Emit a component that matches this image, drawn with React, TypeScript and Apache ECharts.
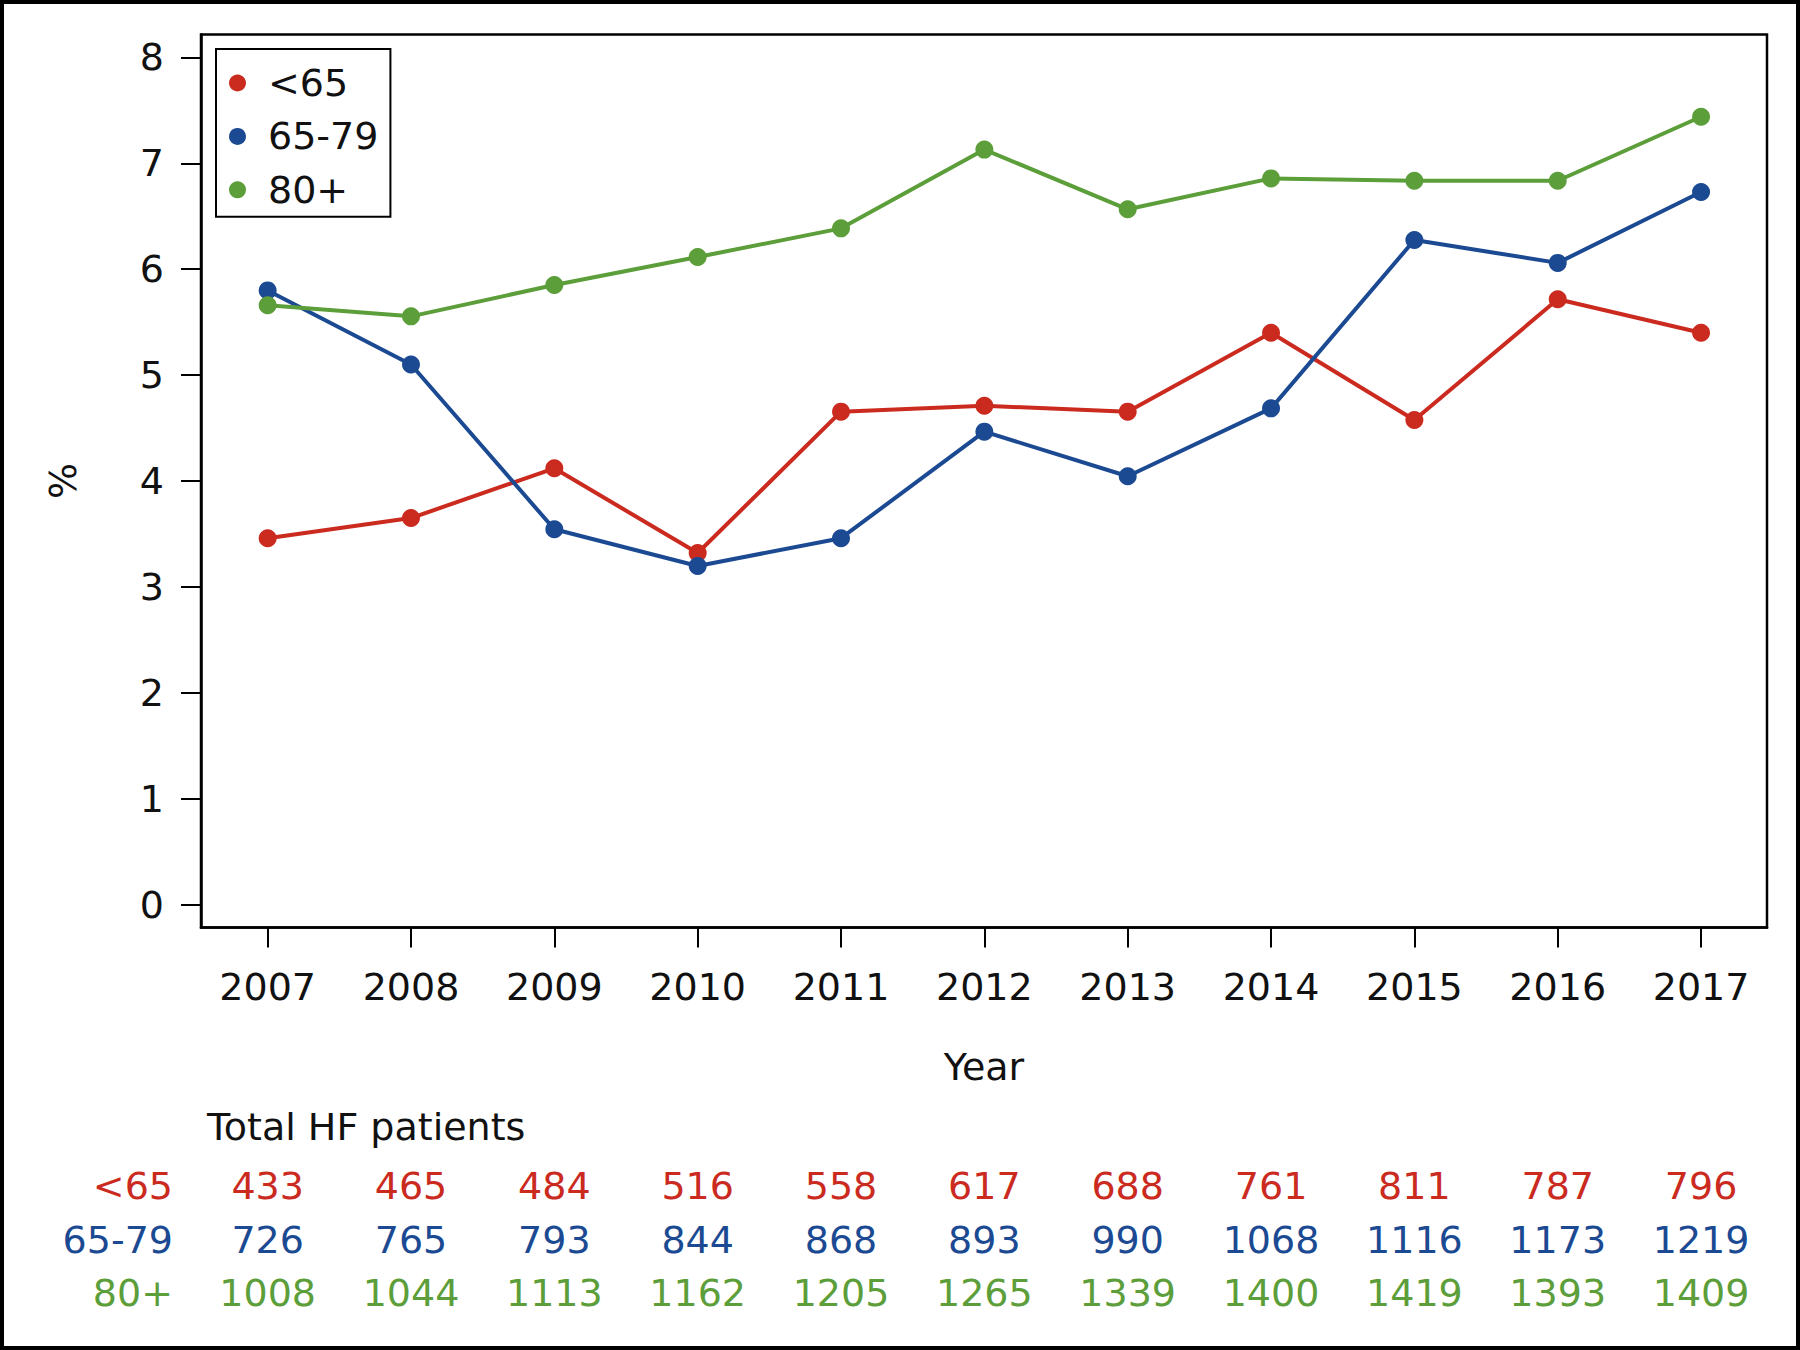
import React, { useEffect, useRef } from "react";
import * as echarts from "echarts";

// ---- data ----
const years = [2007, 2008, 2009, 2010, 2011, 2012, 2013, 2014, 2015, 2016, 2017];
const seriesNames = ["<65", "65-79", "80+"];
const pctUnder65 = [3.46, 3.65, 4.12, 3.32, 4.655, 4.71, 4.655, 5.40, 4.576, 5.716, 5.40];
const pct65to79 = [5.80, 5.10, 3.544, 3.197, 3.46, 4.466, 4.045, 4.686, 6.276, 6.06, 6.73];
const pct80plus = [5.66, 5.555, 5.851, 6.115, 6.386, 7.13, 6.566, 6.858, 6.836, 6.836, 7.44];
const countsUnder65 = [433, 465, 484, 516, 558, 617, 688, 761, 811, 787, 796];
const counts65to79 = [726, 765, 793, 844, 868, 893, 990, 1068, 1116, 1173, 1219];
const counts80plus = [1008, 1044, 1113, 1162, 1205, 1265, 1339, 1400, 1419, 1393, 1409];
const yTicks = [0, 1, 2, 3, 4, 5, 6, 7, 8];
const tableTitle = "Total HF patients";
const xTitle = "Year";
const yTitle = "%";

const colors = ["#CB2A1F", "#1B4A93", "#5C9E3A"];
const FONT = "DejaVu Sans";
const FS = 38;

export default function App() {
  const ref = useRef<HTMLDivElement>(null);

  useEffect(() => {
    document.body.style.margin = "0";
    const chart = echarts.init(ref.current!, null, { renderer: "svg" });
    const pctSeries = [pctUnder65, pct65to79, pct80plus];
    const countRows = [countsUnder65, counts65to79, counts80plus];

    const option: any = {
      animation: false,
      backgroundColor: "#fff",
      textStyle: { fontFamily: FONT },
      grid: {
        left: 201,
        top: 34.5,
        width: 1566,
        height: 893,
        show: true,
        borderColor: "#000",
        borderWidth: 2.5,
        backgroundColor: "transparent",
      },
      legend: {
        orient: "vertical",
        left: 216,
        top: 49,
        icon: "circle",
        itemWidth: 17,
        itemHeight: 17,
        itemGap: 13.4,
        padding: [14, 12, 7, 13],
        borderColor: "#000",
        borderWidth: 2,
        data: seriesNames,
        textStyle: {
          fontFamily: FONT,
          fontSize: FS,
          color: "#111",
          lineHeight: 40,
          padding: [0, 0, 0, 17],
        },
      },
      xAxis: {
        type: "value",
        min: 2006.535,
        max: 2017.46,
        name: xTitle,
        nameLocation: "middle",
        nameGap: 120,
        nameTextStyle: { fontFamily: FONT, fontSize: FS, color: "#111" },
        axisLine: { show: true, onZero: false, lineStyle: { color: "#000", width: 2.5 } },
        axisTick: {
          show: true,
          customValues: years,
          length: 20,
          lineStyle: { color: "#000", width: 2 },
        },
        axisLabel: {
          customValues: years,
          formatter: (v: number) => String(v),
          fontFamily: FONT,
          fontSize: FS,
          color: "#111",
          margin: 40,
        },
        splitLine: { show: false },
      },
      yAxis: {
        type: "value",
        min: -0.217,
        max: 8.217,
        name: yTitle,
        nameLocation: "middle",
        nameRotate: 90,
        nameGap: 119,
        nameTextStyle: { fontFamily: FONT, fontSize: FS, color: "#111" },
        axisLine: { show: true, onZero: false, lineStyle: { color: "#000", width: 2.5 } },
        axisTick: {
          show: true,
          customValues: yTicks,
          length: 20,
          lineStyle: { color: "#000", width: 2 },
        },
        axisLabel: {
          customValues: yTicks,
          formatter: (v: number) => String(v),
          fontFamily: FONT,
          fontSize: FS,
          color: "#111",
          margin: 37,
        },
        splitLine: { show: false },
      },
      series: seriesNames.map((name, si) => ({
        name,
        type: "line",
        data: years.map((yr, i) => [yr, pctSeries[si][i]]),
        symbol: "circle",
        symbolSize: 18,
        showSymbol: true,
        lineStyle: { color: colors[si], width: 4 },
        itemStyle: { color: colors[si] },
        emphasis: { disabled: true },
        z: 2 + si,
      })),
    };

    chart.setOption(option);

    // table below the chart, positioned through the x axis scale
    const rowY = [1186, 1240, 1293];
    const graphics: any[] = [
      {
        type: "rect",
        shape: { x: 2, y: 2, width: 1796, height: 1346 },
        style: { fill: "none", stroke: "#000", lineWidth: 4 },
        silent: true,
      },
      {
        type: "text",
        x: 207,
        y: 1127,
        style: {
          text: tableTitle,
          fontFamily: FONT,
          fontSize: FS,
          fill: "#111",
          align: "left",
          verticalAlign: "middle",
        },
      },
    ];
    seriesNames.forEach((name, si) => {
      graphics.push({
        type: "text",
        x: 173,
        y: rowY[si],
        style: {
          text: name,
          fontFamily: FONT,
          fontSize: FS,
          fill: colors[si],
          align: "right",
          verticalAlign: "middle",
        },
      });
      years.forEach((yr, i) => {
        const px = chart.convertToPixel({ xAxisIndex: 0 }, yr) as number;
        graphics.push({
          type: "text",
          x: px,
          y: rowY[si],
          style: {
            text: String(countRows[si][i]),
            fontFamily: FONT,
            fontSize: FS,
            fill: colors[si],
            align: "center",
            verticalAlign: "middle",
          },
        });
      });
    });
    chart.setOption({ graphic: graphics });

    return () => chart.dispose();
  }, []);

  return (
    <div
      ref={ref}
      style={{ position: "absolute", left: 0, top: 0, width: 1800, height: 1350 }}
    />
  );
}
